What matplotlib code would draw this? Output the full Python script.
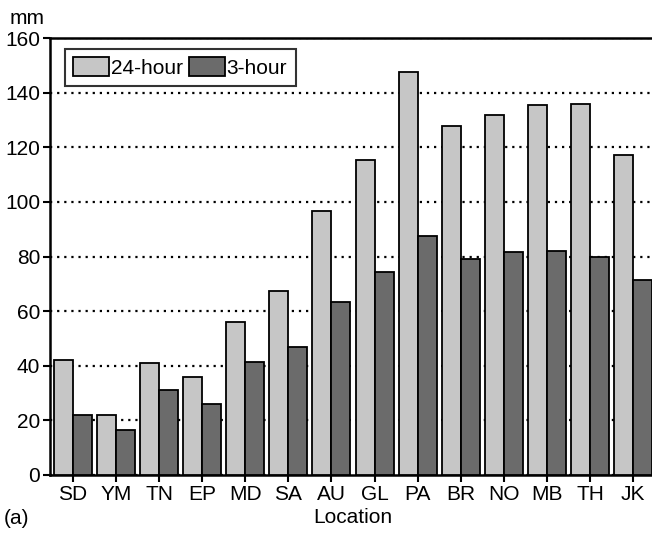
import numpy as np
import matplotlib.pyplot as plt

plt.rcParams['font.family'] = ['Liberation Sans', 'DejaVu Sans']

locations = ["SD", "YM", "TN", "EP", "MD", "SA", "AU", "GL", "PA", "BR", "NO", "MB", "TH", "JK"]
rain_24h = [42, 22, 41, 36, 56, 67.5, 96.5, 115.5, 147.5, 127.8, 131.7, 135.5, 136, 117]
rain_3h = [22, 16.5, 31, 26, 41.5, 47, 63.5, 74.5, 87.5, 79, 81.5, 82, 80, 71.5]

FS = 15

fig = plt.figure(figsize=(6.52, 5.33), dpi=100)
# axes run slightly past the right edge, as in the scanned figure
ax = fig.add_axes([50 / 652, 1 - 475 / 533, 606 / 652, 437 / 533])

x = np.arange(len(locations))
w = 0.44
ax.bar(x - w / 2, rain_24h, w, color="#c6c6c6", edgecolor="black", linewidth=1.3,
       label="24-hour", zorder=3)
ax.bar(x + w / 2, rain_3h, w, color="#6b6b6b", edgecolor="black", linewidth=1.3,
       label="3-hour", zorder=3)

ax.set_xlim(-0.53, len(locations) - 0.47)
ax.set_ylim(0, 160)
ax.set_yticks(np.arange(0, 161, 20))
ax.set_xticks(x)
ax.set_xticklabels(locations)
ax.yaxis.grid(True, linestyle=(0, (1, 2.2)), color="black", linewidth=1.6, zorder=0)
ax.tick_params(axis="both", direction="out", length=5, width=1.5, labelsize=FS, pad=2)

for s in ["left", "top", "bottom", "right"]:
    ax.spines[s].set_linewidth(1.8)

ax.set_xlabel("Location", fontsize=FS, labelpad=3)
fig.text(10 / 652, 1 - 18 / 533, "mm", fontsize=FS, va="center")
fig.text(4 / 652, 1 - 519 / 533, "(a)", fontsize=FS, va="center")

leg = ax.legend(loc="upper left", bbox_to_anchor=(0.025, 0.975), ncol=2, fontsize=FS,
                frameon=True, fancybox=False, edgecolor="black", handlelength=1.7,
                handleheight=1.0, handletextpad=0.1, columnspacing=0.3,
                borderpad=0.4, borderaxespad=0)
leg.get_frame().set_linewidth(1.5)

fig.savefig("out.png", dpi=100)
